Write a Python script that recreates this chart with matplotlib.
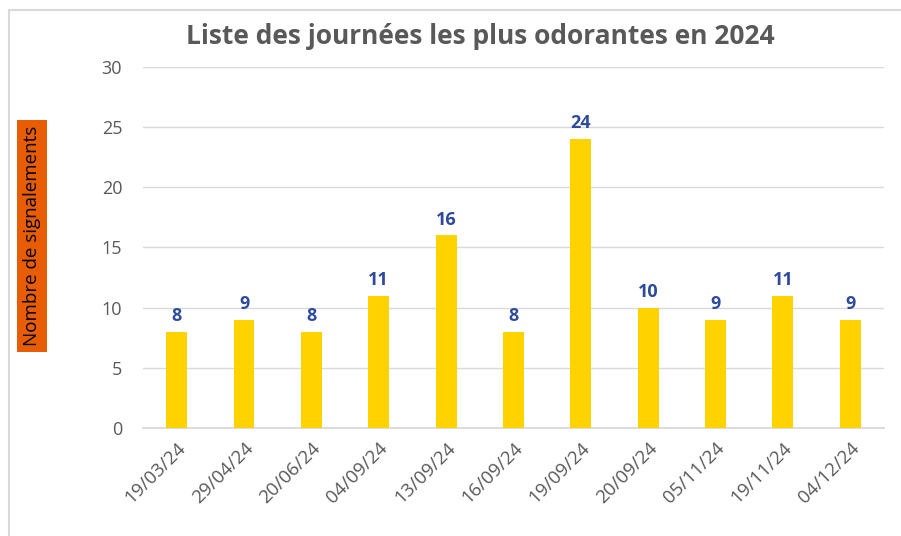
import matplotlib as mpl
mpl.use("Agg")
import matplotlib.pyplot as plt
from matplotlib.patches import Rectangle

dates = ['19/03/24', '29/04/24', '20/06/24', '04/09/24', '13/09/24', '16/09/24',
         '19/09/24', '20/09/24', '05/11/24', '19/11/24', '04/12/24']
counts = [8, 9, 8, 11, 16, 8, 24, 10, 9, 11, 9]
yticks = [0, 5, 10, 15, 20, 25, 30]

plt.rcParams['font.family'] = ['Open Sans', 'DejaVu Sans']

fig = plt.figure(figsize=(9.01, 5.36), dpi=100)
ax = fig.add_axes([0.1587, 0.2015, 0.8224, 0.6735])

# chart border (runs off the right and bottom edges)
fig.patches.append(Rectangle((8.5 / 901, -10 / 536), 920 / 901, 536 / 536,
                             transform=fig.transFigure, fill=False,
                             edgecolor='#D9D9D9', linewidth=1.5))

x = range(len(dates))
ax.bar(x, counts, width=0.31, color='#FFD200', zorder=3)
for xi, v in zip(x, counts):
    ax.annotate(str(v), (xi, v), xytext=(0, 5), textcoords='offset points',
                ha='center', va='bottom', fontsize=13, fontweight='bold',
                color='#2E4A9E')

ax.set_xlim(-0.5, len(dates) - 0.5)
ax.set_ylim(0, 30)
ax.set_yticks(yticks)
ax.set_yticklabels([str(t) for t in yticks], fontsize=13, color='#595959')
ax.set_xticks(list(x))
ax.set_xticklabels(dates, rotation=45, ha='right', rotation_mode='anchor',
                   fontsize=13.5, color='#595959')
ax.tick_params(axis='both', length=0)
ax.tick_params(axis='y', pad=15)
ax.tick_params(axis='x', pad=8)

ax.grid(axis='y', color='#D9D9D9', linewidth=1, zorder=0)
for s in ['top', 'right', 'left']:
    ax.spines[s].set_visible(False)
ax.spines['bottom'].set_color('#D9D9D9')
ax.spines['bottom'].set_linewidth(1.3)

fig.text(0.533, 0.931, 'Liste des journées les plus odorantes en 2024',
         ha='center', va='center', fontsize=19, fontweight='bold', color='#595959')

fig.text(32 / 901, 1 - 236 / 536, 'Nombre de signalements', rotation=90,
         ha='center', va='center', fontsize=13.5, color='black',
         bbox=dict(boxstyle='square,pad=0.3', facecolor='#E85D04',
                   edgecolor='none'))

fig.savefig('out.png', dpi=100)
